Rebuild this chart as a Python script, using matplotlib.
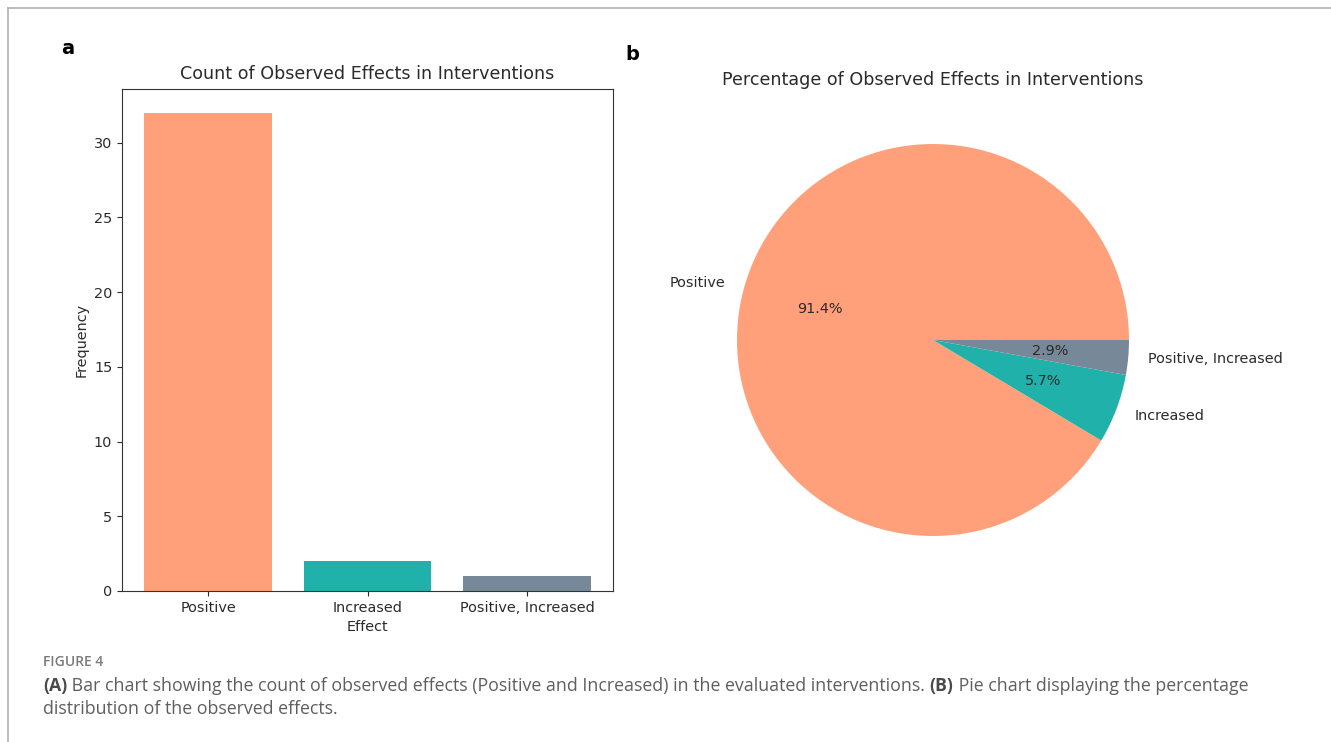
import matplotlib
matplotlib.use("Agg")
import matplotlib.pyplot as plt
from matplotlib.lines import Line2D

# Observed effects across evaluated interventions
effects = ["Positive", "Increased", "Positive, Increased"]
counts = [32, 2, 1]
colors = ["#FFA07A", "#20B2AA", "#778899"]

W, H = 1331, 742
fig = plt.figure(figsize=(W / 100, H / 100), dpi=100)


def px_axes(x0, y0, x1, y1):
    """Axes from pixel box (left, top, right, bottom)."""
    return fig.add_axes([x0 / W, 1 - y1 / H, (x1 - x0) / W, (y1 - y0) / H])


# Page frame lines
fig.add_artist(Line2D([8 / W, 1], [1 - 8 / H, 1 - 8 / H], color="#b0b0b0", lw=1.2))
fig.add_artist(Line2D([8 / W, 8 / W], [0, 1 - 8 / H], color="#b0b0b0", lw=1.2))

txt = "#2b2b2b"
fs = 10.4
tfs = 12.6

# (a) bar chart
ax1 = px_axes(122, 89, 613, 591)
ax1.bar(effects, counts, color=colors)
ax1.set_title("Count of Observed Effects in Interventions", fontsize=tfs, color=txt, pad=7)
ax1.set_xlabel("Effect", fontsize=fs, color=txt)
ax1.set_ylabel("Frequency", fontsize=fs, color=txt)
ax1.tick_params(labelsize=fs, colors=txt)
for s in ax1.spines.values():
    s.set_color("#333333")

# (b) pie chart
ax2 = px_axes(933 - 245, 340 - 245, 933 + 245, 340 + 245)
ax2.pie(counts, labels=effects, colors=colors, autopct="%1.1f%%",
        textprops={"fontsize": fs, "color": txt})
ax2.set_title("Percentage of Observed Effects in Interventions", fontsize=tfs, color=txt, pad=7)

# Panel letters
fig.text(68 / W, 1 - 48 / H, "a", fontsize=14, fontweight="bold", ha="center", va="center")
fig.text(632 / W, 1 - 55 / H, "b", fontsize=14, fontweight="bold", ha="center", va="center")

# Caption
cap = "#5e5e5e"
cfs = 12.8
fig.text(43 / W, 1 - 662 / H, "FIGURE 4", fontsize=10, family="Open Sans",
         fontweight="semibold", color="#7a7a7a", va="center")

renderer = fig.canvas.get_renderer()


def caption_line(y, pieces):
    x = 43
    for s, bold in pieces:
        t = fig.text(x / W, 1 - y / H, s, fontsize=cfs, family="Open Sans",
                     fontweight="bold" if bold else "normal",
                     color="#4a4a4a" if bold else cap, va="center")
        x += t.get_window_extent(renderer).width


caption_line(686, [("(A)", True),
                   (" Bar chart showing the count of observed effects (Positive and Increased) in the evaluated interventions. ", False),
                   ("(B)", True),
                   (" Pie chart displaying the percentage", False)])
caption_line(709, [("distribution of the observed effects.", False)])

fig.savefig("out.png", dpi=100)
